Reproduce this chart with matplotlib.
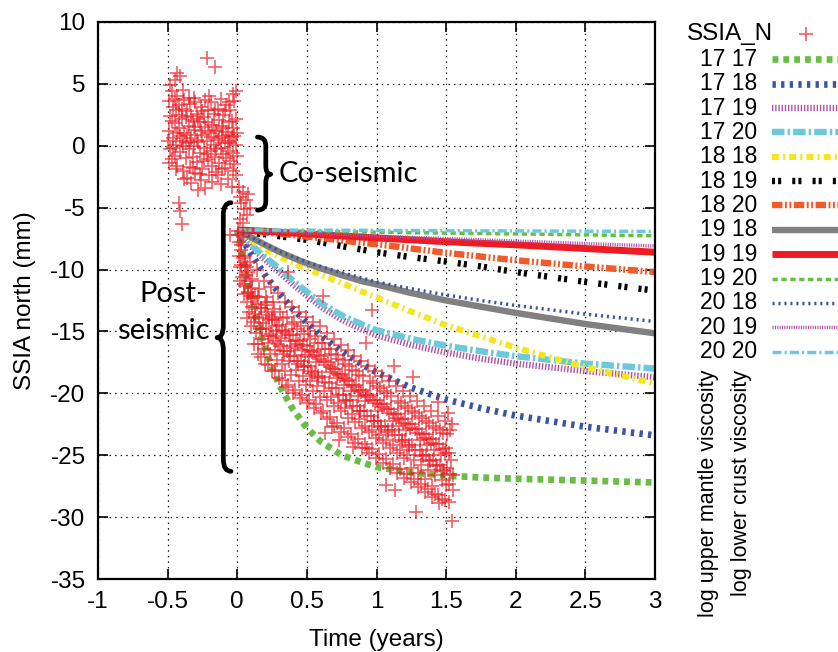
import matplotlib
matplotlib.use("Agg")
import matplotlib.pyplot as plt
from matplotlib.lines import Line2D
from matplotlib.path import Path
from matplotlib.patches import PathPatch

plt.rcParams["font.family"] = ["Liberation Sans", "DejaVu Sans"]
plt.rcParams["lines.scale_dashes"] = False

# ---- observed GPS north component (years, mm) ----
pre_t = [-0.49, -0.49, -0.48, -0.48, -0.47, -0.47, -0.46, -0.46, -0.45, -0.45,
         -0.45, -0.44, -0.44, -0.43, -0.43, -0.43, -0.42, -0.42, -0.42, -0.41,
         -0.41, -0.41, -0.40, -0.40, -0.40, -0.39, -0.39, -0.38, -0.38, -0.37,
         -0.37, -0.36, -0.36, -0.35, -0.35, -0.34, -0.34, -0.33, -0.33, -0.32,
         -0.32, -0.31, -0.31, -0.30, -0.30, -0.29, -0.29, -0.28, -0.28, -0.27,
         -0.27, -0.26, -0.26, -0.25, -0.25, -0.24, -0.24, -0.23, -0.23, -0.22,
         -0.22, -0.21, -0.21, -0.20, -0.20, -0.19, -0.19, -0.18, -0.18, -0.17,
         -0.17, -0.16, -0.16, -0.15, -0.15, -0.14, -0.14, -0.13, -0.13, -0.12,
         -0.12, -0.11, -0.11, -0.10, -0.10, -0.09, -0.09, -0.08, -0.08, -0.07,
         -0.07, -0.06, -0.06, -0.05, -0.05, -0.04, -0.04, -0.03, -0.03, -0.03,
         -0.02, -0.02, -0.01, -0.01, -0.01, 0.00, 0.00, 0.01, 0.02, 0.03,
         0.04, 0.05, 0.06, 0.07, 0.08, 0.09, 0.02, 0.04, -0.05, 0.07,
         -0.50, -0.49, -0.48, -0.47, -0.46, -0.45, -0.44, -0.43, -0.42, -0.41,
         -0.40, -0.39, -0.38, -0.37, -0.36, -0.35, -0.34, -0.33, -0.32, -0.31,
         -0.30, -0.29, -0.28, -0.27, -0.26, -0.25, -0.24, -0.23, -0.22, -0.21,
         -0.20, -0.19, -0.18, -0.17, -0.16, -0.15, -0.14, -0.13, -0.12, -0.11,
         -0.10, -0.09, -0.08, -0.07, -0.06, -0.05, -0.04, -0.03, -0.02, -0.01]
pre_n = [3.6, 1.2, -0.3, 2.4, 4.4, -1.1, 0.6, 3.1, 5.3, 1.8,
         -0.8, 2.9, 0.1, 5.9, 4.0, -1.6, 1.4, -4.6, 3.3, 5.6,
         -0.5, -5.3, 2.2, -6.3, 0.4, 4.5, -2.0, 1.0, 3.7, -1.0,
         0.2, 2.8, -2.6, 1.6, -0.3, 3.4, -1.7, 0.6, -3.0, 2.0,
         -0.9, 3.9, 0.0, 1.3, -2.2, 2.6, -1.3, 0.3, -3.6, 1.9,
         -0.6, 3.1, -2.8, 0.9, -1.9, 2.3, -0.2, 1.5, -3.4, 7.1,
         0.4, 2.9, -1.1, 1.0, -2.4, 3.5, -0.4, 1.7, -1.6, 0.1,
         2.6, 6.4, -0.9, 1.2, -2.1, 3.0, 0.5, -1.4, 2.1, -0.2,
         -3.1, 1.6, 0.8, -0.7, 2.5, -1.8, 0.2, 3.3, 1.1, -0.4,
         -2.7, 1.9, 0.4, -1.2, 2.9, 0.7, -3.3, 4.2, 1.4, -0.6,
         3.6, -1.5, 2.2, 0.1, -2.4, 1.0, -0.8, -3.3, -4.1, -4.6,
         -3.7, -5.1, -4.4, -5.6, -3.9, -5.0, -5.9, -6.2, -7.2, -9.8,
         0.4, -1.4, 4.9, 2.0, -0.2, 3.8, -1.9, 1.0, 2.5, 0.8,
         3.0, 0.0, -2.7, 2.3, 0.9, 3.9, 0.3, 2.4, -1.8, 1.5,
         3.5, 0.5, 2.2, -2.3, 1.2, 2.8, -1.2, 3.7, -0.7, 1.9,
         4.0, 0.7, -2.9, 1.3, 2.9, -0.3, -2.4, 0.6, 3.8, -1.9,
         1.4, 2.8, -1.0, 0.9, 3.5, 0.2, 2.0, -2.0, 0.8, 4.4]

post_t = [0.004, 0.010, 0.015, 0.022, 0.027, 0.034, 0.040, 0.046,
          0.053, 0.058, 0.066, 0.071, 0.077, 0.084, 0.089, 0.096,
          0.103, 0.108, 0.116, 0.121, 0.128, 0.133, 0.140, 0.147,
          0.152, 0.159, 0.164, 0.171, 0.177, 0.183, 0.190, 0.196,
          0.203, 0.209, 0.214, 0.221, 0.227, 0.234, 0.239, 0.246,
          0.252, 0.258, 0.265, 0.270, 0.277, 0.283, 0.289, 0.296,
          0.302, 0.309, 0.314, 0.321, 0.326, 0.333, 0.340, 0.345,
          0.353, 0.358, 0.365, 0.371, 0.376, 0.384, 0.389, 0.395,
          0.402, 0.408, 0.415, 0.420, 0.427, 0.433, 0.439, 0.446,
          0.452, 0.459, 0.464, 0.471, 0.477, 0.482, 0.490, 0.495,
          0.503, 0.508, 0.515, 0.521, 0.526, 0.534, 0.540, 0.545,
          0.552, 0.559, 0.565, 0.570, 0.578, 0.583, 0.589, 0.596,
          0.602, 0.608, 0.614, 0.621, 0.627, 0.633, 0.640, 0.645,
          0.653, 0.658, 0.664, 0.671, 0.676, 0.684, 0.689, 0.695,
          0.702, 0.709, 0.715, 0.720, 0.727, 0.732, 0.739, 0.746,
          0.752, 0.758, 0.764, 0.771, 0.777, 0.783, 0.790, 0.795,
          0.803, 0.808, 0.815, 0.821, 0.826, 0.834, 0.839, 0.846,
          0.852, 0.859, 0.864, 0.871, 0.877, 0.882, 0.890, 0.895,
          0.902, 0.908, 0.915, 0.920, 0.927, 0.933, 0.940, 0.945,
          0.953, 0.958, 0.965, 0.971, 0.976, 0.984, 0.989, 0.995,
          1.002, 1.009, 1.014, 1.021, 1.027, 1.032, 1.039, 1.046,
          1.052, 1.058, 1.066, 1.070, 1.077, 1.083, 1.089, 1.096,
          1.103, 1.108, 1.115, 1.121, 1.127, 1.133, 1.140, 1.145,
          1.152, 1.159, 1.164, 1.171, 1.176, 1.184, 1.189, 1.195,
          1.202, 1.208, 1.215, 1.220, 1.227, 1.233, 1.239, 1.246,
          1.253, 1.258, 1.264, 1.271, 1.277, 1.282, 1.290, 1.295,
          1.302, 1.309, 1.314, 1.321, 1.326, 1.334, 1.339, 1.345,
          1.352, 1.359, 1.365, 1.370, 1.377, 1.383, 1.389, 1.396,
          1.403, 1.408, 1.415, 1.421, 1.426, 1.433, 1.440, 1.445,
          1.452, 1.458, 1.464, 1.471, 1.477, 1.483, 1.490, 1.495,
          1.502, 1.508, 1.514, 1.521, 1.527, 1.533, 1.540, 1.546,
          0.006, 0.018, 0.024, 0.030, 0.042, 0.048,
          0.056, 0.068, 0.074, 0.080, 0.092, 0.098,
          0.106, 0.118, 0.124, 0.130, 0.142, 0.148,
          0.156, 0.168, 0.174, 0.180, 0.192, 0.198,
          0.206, 0.218, 0.224, 0.230, 0.242, 0.248,
          0.256, 0.268, 0.274, 0.280, 0.292, 0.298,
          0.306, 0.318, 0.324, 0.330, 0.342, 0.348,
          0.356, 0.368, 0.374, 0.380, 0.392, 0.398,
          0.406, 0.418, 0.424, 0.430, 0.442, 0.448,
          0.456, 0.468, 0.474, 0.480, 0.492, 0.498,
          0.506, 0.518, 0.524, 0.530, 0.542, 0.548,
          0.556, 0.568, 0.574, 0.580, 0.592, 0.598,
          0.606, 0.618, 0.624, 0.630, 0.642, 0.648,
          0.656, 0.668, 0.674, 0.680, 0.692, 0.698,
          0.706, 0.718, 0.724, 0.730, 0.742, 0.748,
          0.756, 0.768, 0.774, 0.780, 0.792, 0.798,
          0.806, 0.818, 0.824, 0.830, 0.842, 0.848,
          0.856, 0.868, 0.874, 0.880, 0.892, 0.898,
          0.906, 0.918, 0.924, 0.930, 0.942, 0.948,
          0.956, 0.968, 0.974, 0.980, 0.992, 0.998,
          1.006, 1.018, 1.024, 1.030, 1.042, 1.048,
          1.056, 1.068, 1.074, 1.080, 1.092, 1.098,
          1.106, 1.118, 1.124, 1.130, 1.142, 1.148,
          1.156, 1.168, 1.174, 1.180, 1.192, 1.198,
          1.206, 1.218, 1.224, 1.230, 1.242, 1.248,
          1.256, 1.268, 1.274, 1.280, 1.292, 1.298,
          1.306, 1.318, 1.324, 1.330, 1.342, 1.348,
          1.356, 1.368, 1.374, 1.380, 1.392, 1.398,
          1.406, 1.418, 1.424, 1.430, 1.442, 1.448,
          1.456, 1.468, 1.474, 1.480, 1.492, 1.498,
          1.506, 1.518, 1.524, 1.530, 1.542, 1.548]
post_n = [-7.2, -8.9, -7.8, -9.8, -8.4, -10.6, -9.1, -11.2,
          -9.6, -11.3, -10.4, -12.6, -11.8, -13.4, -10.9, -12.1,
          -11.5, -13.0, -12.3, -14.2, -13.6, -15.1, -12.8, -16.0,
          -12.2, -13.9, -14.8, -13.1, -15.6, -14.3, -16.4, -12.9,
          -13.4, -14.7, -12.6, -15.9, -14.1, -16.8, -15.2, -13.8,
          -14.0, -15.4, -13.2, -16.5, -15.0, -17.3, -14.6, -16.0,
          -14.5, -16.2, -15.5, -17.6, -13.9, -16.8, -15.1, -18.2,
          -15.0, -16.6, -10.2, -17.4, -15.8, -18.5, -16.2, -14.4,
          -15.3, -17.0, -16.3, -18.1, -14.8, -17.6, -16.0, -19.0,
          -15.8, -17.4, -16.5, -18.6, -15.2, -17.9, -16.9, -19.3,
          -16.2, -17.8, -17.1, -19.0, -15.6, -18.4, -16.7, -19.8,
          -16.6, -18.3, -17.5, -19.4, -15.9, -18.8, -17.2, -20.3,
          -17.0, -18.7, -12.1, -19.8, -16.4, -23.2, -17.7, -20.5,
          -17.5, -19.2, -18.3, -20.3, -16.8, -22.7, -18.0, -21.0,
          -18.0, -19.6, -18.8, -20.8, -17.2, -23.8, -18.6, -21.4,
          -18.4, -20.1, -19.3, -21.2, -17.6, -20.6, -19.0, -22.0,
          -18.9, -20.5, -19.8, -21.7, -18.1, -24.3, -19.5, -22.3,
          -19.3, -21.0, -20.2, -22.1, -18.5, -21.4, -19.9, -22.8,
          -19.7, -21.4, -20.6, -22.6, -15.9, -24.4, -20.3, -23.1,
          -20.1, -21.8, -13.3, -23.0, -19.2, -22.2, -20.8, -23.6,
          -20.5, -22.2, -21.4, -23.4, -19.6, -22.7, -21.1, -24.0,
          -20.9, -22.6, -27.4, -23.8, -20.0, -23.1, -21.6, -24.4,
          -21.3, -23.0, -22.2, -24.2, -17.8, -27.8, -22.0, -24.8,
          -21.7, -23.4, -22.6, -24.6, -20.8, -23.9, -22.4, -25.2,
          -22.1, -23.8, -23.0, -25.0, -21.2, -24.3, -22.8, -26.0,
          -22.5, -24.2, -18.7, -25.4, -21.6, -29.6, -23.2, -26.4,
          -22.9, -24.6, -23.8, -25.8, -22.0, -25.1, -23.6, -26.9,
          -23.3, -25.0, -24.2, -26.2, -22.4, -25.5, -24.0, -27.5,
          -23.7, -25.4, -24.6, -26.6, -22.8, -25.9, -20.7, -28.2,
          -24.1, -25.8, -25.0, -27.0, -23.2, -26.3, -24.8, -28.6,
          -24.4, -26.0, -21.6, -27.3, -23.0, -25.4, -30.3, -26.6,
          -6.9, -10.9, -8.0, -9.6, -7.4, -12.0,
          -8.9, -13.9, -10.2, -11.9, -9.4, -14.6,
          -10.8, -16.0, -12.1, -13.8, -10.0, -16.8,
          -11.6, -17.1, -13.1, -14.8, -10.9, -17.6,
          -12.2, -17.7, -13.7, -15.4, -11.4, -18.2,
          -12.6, -18.1, -14.1, -15.8, -11.9, -18.8,
          -13.4, -18.9, -14.9, -16.6, -12.6, -19.5,
          -13.8, -19.3, -15.3, -17.0, -13.0, -20.0,
          -14.2, -19.7, -15.7, -17.4, -13.4, -20.4,
          -14.6, -20.1, -16.1, -17.8, -13.8, -20.8,
          -15.0, -20.5, -16.5, -18.2, -14.2, -21.2,
          -15.4, -20.9, -16.9, -18.6, -14.6, -21.6,
          -15.9, -21.4, -17.4, -19.1, -15.1, -22.1,
          -16.4, -21.9, -17.9, -19.6, -15.6, -22.6,
          -16.9, -22.4, -18.4, -20.1, -16.1, -23.1,
          -17.3, -22.8, -18.8, -20.5, -16.5, -23.5,
          -17.8, -23.3, -19.3, -21.0, -17.0, -24.0,
          -18.2, -23.7, -19.7, -21.4, -17.4, -24.4,
          -18.6, -24.1, -20.1, -21.8, -17.8, -24.8,
          -19.0, -24.5, -20.5, -22.2, -18.2, -25.2,
          -19.4, -24.9, -20.9, -22.6, -18.6, -25.6,
          -19.8, -25.3, -21.3, -23.0, -19.0, -26.0,
          -20.2, -25.7, -21.7, -23.4, -19.4, -26.4,
          -20.6, -26.1, -22.1, -23.8, -19.8, -26.8,
          -21.0, -26.5, -22.5, -24.2, -20.2, -27.2,
          -21.4, -26.9, -22.9, -24.6, -20.6, -27.6,
          -21.8, -27.3, -23.3, -25.0, -21.0, -28.0,
          -22.2, -27.7, -23.7, -25.4, -21.4, -28.4,
          -22.6, -28.1, -24.1, -25.8, -21.8, -28.9,
          -23.0, -28.5, -24.5, -26.2, -22.2, -27.4,
          -23.3, -28.8, -24.8, -26.5, -22.5, -27.8]

# ---- model predictions (log upper mantle / log lower crust viscosity) ----
model_t = [0, 0.025, 0.05, 0.1, 0.15, 0.2, 0.3, 0.4, 0.5, 0.6, 0.75, 0.9,
           1.0, 1.25, 1.5, 1.75, 2.0, 2.5, 3.0]
n_17_17 = [-6.8, -8.4, -9.8, -12.4, -14.5, -16.4, -19.3, -21.3, -22.8, -23.9,
           -25.0, -25.6, -25.95, -26.4, -26.65, -26.8, -26.9, -27.05, -27.2]
n_17_18 = [-6.8, -7.3, -7.8, -8.75, -9.6, -10.45, -11.9, -13.2, -14.3, -15.35,
           -16.6, -17.7, -18.3, -19.55, -20.5, -21.2, -21.8, -22.7, -23.4]
n_17_19 = [-6.8, -7.15, -7.5, -8.15, -8.7, -9.2, -10.2, -11.2, -12.1, -13.0,
           -14.05, -14.85, -15.3, -16.1, -16.7, -17.2, -17.6, -18.2, -18.7]
n_17_20 = [-6.8, -7.1, -7.4, -8.0, -8.5, -9.0, -9.9, -10.9, -11.8, -12.7,
           -13.7, -14.45, -14.9, -15.6, -16.15, -16.6, -17.0, -17.6, -18.0]
n_18_18 = [-6.8, -7.0, -7.2, -7.6, -8.0, -8.35, -8.95, -9.45, -9.95, -10.4,
           -11.1, -11.8, -12.25, -13.4, -14.5, -15.4, -16.3, -17.9, -19.2]
n_18_19 = [-6.8, -6.85, -6.9, -7.0, -7.1, -7.15, -7.3, -7.45, -7.6, -7.8,
           -8.1, -8.4, -8.6, -9.0, -9.35, -9.75, -10.2, -11.0, -11.7]
n_18_20 = [-6.8, -6.82, -6.85, -6.9, -6.95, -7.0, -7.1, -7.2, -7.35, -7.45,
           -7.65, -7.85, -7.95, -8.3, -8.65, -8.95, -9.25, -9.75, -10.2]
n_19_18 = [-6.8, -6.95, -7.1, -7.4, -7.7, -8.0, -8.55, -9.05, -9.5, -9.9,
           -10.45, -10.95, -11.2, -11.9, -12.5, -13.0, -13.5, -14.4, -15.15]
n_19_19 = [-6.8, -6.81, -6.82, -6.85, -6.88, -6.9, -6.98, -7.05, -7.12, -7.18,
           -7.28, -7.38, -7.45, -7.6, -7.75, -7.88, -8.0, -8.3, -8.6]
n_19_20 = [-6.8, -6.8, -6.81, -6.82, -6.83, -6.84, -6.86, -6.88, -6.9, -6.92,
           -6.94, -6.96, -6.98, -7.02, -7.05, -7.09, -7.12, -7.2, -7.27]
n_20_18 = [-6.8, -6.95, -7.1, -7.4, -7.7, -7.95, -8.5, -8.95, -9.4, -9.75,
           -10.25, -10.7, -11.0, -11.55, -12.05, -12.5, -12.9, -13.6, -14.2]
n_20_19 = [-6.8, -6.8, -6.81, -6.83, -6.85, -6.87, -6.92, -6.97, -7.05, -7.1,
           -7.16, -7.24, -7.3, -7.4, -7.5, -7.6, -7.7, -7.9, -8.1]
n_20_20 = [-6.8, -6.8, -6.8, -6.8, -6.8, -6.8, -6.81, -6.81, -6.82, -6.82,
           -6.83, -6.83, -6.84, -6.85, -6.86, -6.87, -6.88, -6.9, -6.92]

model_labels = ["17 17", "17 18", "17 19", "17 20", "18 18", "18 19", "18 20",
                "19 18", "19 19", "19 20", "20 18", "20 19", "20 20"]
model_values = [n_17_17, n_17_18, n_17_19, n_17_20, n_18_18, n_18_19, n_18_20,
                n_19_18, n_19_19, n_19_20, n_20_18, n_20_19, n_20_20]

x_ticks = [-1, -0.5, 0, 0.5, 1, 1.5, 2, 2.5, 3]
x_ticklabels = ["-1", "-0.5", "0", "0.5", "1", "1.5", "2", "2.5", "3"]
y_ticks = [10, 5, 0, -5, -10, -15, -20, -25, -30, -35]
y_ticklabels = ["10", "5", "0", "-5", "-10", "-15", "-20", "-25", "-30", "-35"]

GREEN, BLUE, PURPLE, CYAN = "#69bd45", "#3a54a4", "#b04fa3", "#6cc9db"
styles = [
    dict(color=GREEN, lw=4.8, dashes=(4.2, 3.6)),
    dict(color=BLUE, lw=4.8, dashes=(2.4, 3.8)),
    dict(color=PURPLE, lw=4.6, dashes=(1.0, 1.3)),
    dict(color=CYAN, lw=4.6, dashes=(9, 2.2, 1.8, 2.2)),
    dict(color="#f4e61a", lw=4.4, dashes=(5, 3, 1.4, 3)),
    dict(color="black", lw=4.6, dashes=(2.2, 2.2, 2.2, 8)),
    dict(color="#f15a29", lw=4.6, dashes=(7.5, 1.8, 1.4, 1.8, 1.4, 1.8)),
    dict(color="#808080", lw=4.6),
    dict(color="#ed1c24", lw=5.0),
    dict(color=GREEN, lw=2.5, dashes=(3.8, 2.6)),
    dict(color=BLUE, lw=2.5, dashes=(1.5, 2.8)),
    dict(color=PURPLE, lw=2.5, dashes=(0.8, 0.9)),
    dict(color=CYAN, lw=2.5, dashes=(6.5, 2.2, 1.6, 2.2)),
]
OBS = dict(color="#ed1c24", marker="+", ms=9.5, mew=1.2, ls="none", alpha=0.7)

W, H = 838, 652
fig = plt.figure(figsize=(W / 100, H / 100), dpi=100)
ax = fig.add_axes([98 / W, 1 - 579 / H, 557 / W, 557 / H])

for vals, st in zip(model_values, styles):
    ax.plot(model_t, vals, solid_capstyle="butt", dash_capstyle="butt", **st)
ax.plot(pre_t, pre_n, **OBS)
ax.plot(post_t, post_n, **OBS)

ax.set_xlim(-1, 3)
ax.set_ylim(-35, 10)
ax.set_xticks(x_ticks)
ax.set_xticklabels(x_ticklabels)
ax.set_yticks(y_ticks)
ax.set_yticklabels(y_ticklabels)
ax.tick_params(direction="in", top=True, right=True, length=7, width=1.2,
               labelsize=17.5, pad=9)
ax.grid(True, color="black", ls=(0, (1, 3)), lw=0.9)
for sp in ax.spines.values():
    sp.set_linewidth(1.6)
ax.set_xlabel("Time (years)", fontsize=17.5, labelpad=11)
ax.set_ylabel("SSIA north (mm)", fontsize=17.5, labelpad=10)


def brace(x, y_top, y_bot, y_tip, hook, tip, r):
    verts = [(x + hook, y_top), (x, y_top), (x, y_top - r),
             (x, y_tip + r), (x, y_tip), (x + tip, y_tip),
             (x, y_tip), (x, y_tip - r),
             (x, y_bot + r), (x, y_bot), (x + hook, y_bot)]
    codes = [Path.MOVETO, Path.CURVE3, Path.CURVE3,
             Path.LINETO, Path.CURVE3, Path.CURVE3,
             Path.CURVE3, Path.CURVE3,
             Path.LINETO, Path.CURVE3, Path.CURVE3]
    ax.add_patch(PathPatch(Path(verts, codes), fill=False, lw=3.4,
                           capstyle="round", joinstyle="round", zorder=5,
                           clip_on=False))


ann_font = dict(family=["Lato", "DejaVu Sans"], fontsize=21)
brace(0.205, 0.7, -5.2, -2.3, -0.06, 0.035, 0.7)
ax.text(0.30, -2.95, "Co-seismic", ha="left", va="baseline", **ann_font)
brace(-0.1, -4.6, -26.3, -15.5, 0.055, -0.045, 1.0)
ax.text(-0.215, -12.6, "Post-", ha="right", va="baseline", **ann_font)
ax.text(-0.2, -15.6, "seismic", ha="right", va="baseline", **ann_font)

# legend drawn gnuplot style: right-justified label, sample to the right
fx = lambda px: px / W
fy = lambda py: 1 - py / H
fig.text(fx(773), fy(34), "SSIA_N", ha="right", va="center", fontsize=17.5)
fig.add_artist(Line2D([fx(806)], [fy(34)], transform=fig.transFigure, **OBS))
for i, (lab, st) in enumerate(zip(model_labels, styles)):
    yy = fy(59.3 + i * 24.36)
    fig.text(fx(757), yy, lab, ha="right", va="center", fontsize=16.5)
    fig.add_artist(Line2D([fx(772), fx(850)], [yy, yy], transform=fig.transFigure,
                          solid_capstyle="butt", dash_capstyle="butt", **st))
fig.text(fx(708), fy(370), "log upper mantle viscosity", rotation=90,
         ha="center", va="top", fontsize=15.5)
fig.text(fx(741), fy(370), "log lower crust viscosity", rotation=90,
         ha="center", va="top", fontsize=15.5)

fig.savefig("out.png", dpi=100)
